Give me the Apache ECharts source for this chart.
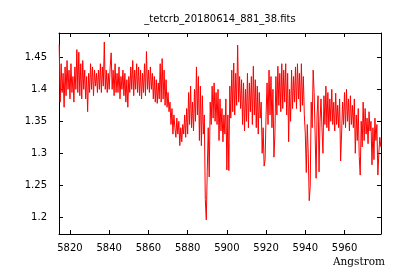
<!DOCTYPE html>
<html>
<head>
<meta charset="utf-8">
<script src="https://cdn.jsdelivr.net/npm/echarts@6/dist/echarts.min.js"></script>
<style>
html,body{margin:0;padding:0;background:#fff;}
#chart{width:400px;height:280px;}
</style>
</head>
<body>
<div id="chart"></div>
<script>
// Spectrum header-style grid (CRVAL1 / CDELT1), Angstrom
const startWavelength = 5814.5;
const stepWavelength = 0.5;
// Flux values, one per 0.5 Angstrom
const flux = [
  1.470, 1.380, 1.440, 1.395, 1.425, 1.372, 1.435, 1.390, 1.445, 1.400,
  1.430, 1.385, 1.440, 1.395, 1.420, 1.380, 1.435, 1.400, 1.462, 1.395,
  1.458, 1.390, 1.440, 1.385, 1.445, 1.400, 1.430, 1.385, 1.420, 1.365,
  1.425, 1.395, 1.440, 1.400, 1.435, 1.390, 1.430, 1.405, 1.425, 1.395,
  1.430, 1.400, 1.440, 1.395, 1.435, 1.405, 1.474, 1.400, 1.430, 1.395,
  1.425, 1.400, 1.435, 1.457, 1.400, 1.430, 1.390, 1.440, 1.395, 1.425,
  1.395, 1.435, 1.385, 1.420, 1.400, 1.430, 1.390, 1.425, 1.380, 1.415,
  1.372, 1.420, 1.395, 1.435, 1.400, 1.445, 1.390, 1.430, 1.400, 1.440,
  1.395, 1.435, 1.390, 1.430, 1.385, 1.425, 1.395, 1.440, 1.390, 1.459,
  1.400, 1.430, 1.395, 1.435, 1.400, 1.425, 1.385, 1.420, 1.380, 1.415,
  1.378, 1.410, 1.385, 1.440, 1.380, 1.448, 1.385, 1.430, 1.375, 1.415,
  1.372, 1.395, 1.365, 1.380, 1.345, 1.370, 1.330, 1.360, 1.340, 1.325,
  1.355, 1.330, 1.350, 1.312, 1.340, 1.318, 1.345, 1.330, 1.360, 1.325,
  1.370, 1.330, 1.395, 1.345, 1.405, 1.340, 1.380, 1.335, 1.400, 1.350,
  1.435, 1.360, 1.420, 1.320, 1.405, 1.312, 1.390, 1.330, 1.360, 1.228,
  1.196, 1.272, 1.340, 1.263, 1.380, 1.345, 1.405, 1.355, 1.410, 1.350,
  1.395, 1.345, 1.400, 1.320, 1.385, 1.335, 1.370, 1.318, 1.360, 1.330,
  1.385, 1.274, 1.360, 1.273, 1.405, 1.355, 1.430, 1.365, 1.441, 1.360,
  1.425, 1.375, 1.469, 1.380, 1.420, 1.370, 1.415, 1.345, 1.410, 1.335,
  1.400, 1.350, 1.425, 1.340, 1.410, 1.365, 1.420, 1.345, 1.436, 1.360,
  1.415, 1.340, 1.405, 1.330, 1.395, 1.355, 1.380, 1.300, 1.340, 1.280,
  1.290, 1.360, 1.410, 1.345, 1.430, 1.360, 1.420, 1.340, 1.400, 1.294,
  1.330, 1.420, 1.360, 1.436, 1.375, 1.425, 1.365, 1.440, 1.370, 1.430,
  1.380, 1.440, 1.360, 1.425, 1.318, 1.400, 1.350, 1.430, 1.370, 1.420,
  1.380, 1.435, 1.370, 1.440, 1.385, 1.425, 1.365, 1.440, 1.375, 1.420,
  1.360, 1.330, 1.270, 1.345, 1.300, 1.226, 1.248, 1.380, 1.340, 1.430,
  1.395, 1.330, 1.261, 1.360, 1.390, 1.271, 1.350, 1.385, 1.340, 1.300,
  1.390, 1.345, 1.405, 1.340, 1.395, 1.335, 1.385, 1.350, 1.400, 1.345,
  1.380, 1.335, 1.394, 1.345, 1.375, 1.340, 1.385, 1.288, 1.330, 1.380,
  1.345, 1.395, 1.340, 1.400, 1.350, 1.385, 1.335, 1.390, 1.345, 1.375,
  1.340, 1.385, 1.300, 1.360, 1.320, 1.370, 1.295, 1.266, 1.350, 1.310,
  1.380, 1.320, 1.370, 1.330, 1.355, 1.315, 1.365, 1.335, 1.350, 1.282,
  1.340, 1.290, 1.355, 1.320, 1.345, 1.266, 1.300, 1.325, 1.310
];
const xTicks = [5820, 5840, 5860, 5880, 5900, 5920, 5940, 5960];
const yTicks = [1.2, 1.25, 1.3, 1.35, 1.4, 1.45];
const titleText = '_tetcrb_20180614_881_38.fits';
const xLabel = 'Angstrom';

const points = flux.map((v, i) => [startWavelength + i * stepWavelength, v]);

const chart = echarts.init(document.getElementById('chart'), null, {renderer: 'canvas'});
const tickFont = 'DejaVu Sans';
const lineStyle = {color: '#000', width: 1};
function xAxisDef(pos, showLabel) {
  return {
    type: 'value', position: pos, min: 5814.4, max: 5978.6,
    axisLine: {show: true, onZero: false, lineStyle},
    axisTick: {show: true, inside: true, length: 4, customValues: xTicks, lineStyle},
    axisLabel: {show: showLabel, customValues: xTicks, formatter: v => String(Math.round(v)),
      fontFamily: tickFont, fontSize: 10, color: '#000', margin: 9},
    splitLine: {show: false}
  };
}
function yAxisDef(pos, showLabel) {
  return {
    type: 'value', position: pos, min: 1.1739, max: 1.488,
    axisLine: {show: true, onZero: false, lineStyle},
    axisTick: {show: true, inside: true, length: 4, customValues: yTicks, lineStyle},
    axisLabel: {show: showLabel, customValues: yTicks, formatter: v => String(+v.toFixed(2)),
      fontFamily: tickFont, fontSize: 10, color: '#000', margin: 12},
    splitLine: {show: false}
  };
}
chart.setOption({
  animation: false,
  backgroundColor: '#fff',
  grid: {left: 59, right: 19, top: 33, bottom: 46, containLabel: false},
  xAxis: [xAxisDef('bottom', true), xAxisDef('top', false)],
  yAxis: [yAxisDef('left', true), yAxisDef('right', false)],
  graphic: [
    {type: 'text', x: 220, y: 19, style: {text: titleText, align: 'center', verticalAlign: 'middle',
      font: '10px "DejaVu Sans"', fill: '#000'}},
    {type: 'text', x: 385, y: 262, style: {text: xLabel, align: 'right', verticalAlign: 'middle',
      font: '10.5px "DejaVu Serif"', fill: '#000'}}
  ],
  series: [{
    type: 'line', data: points, xAxisIndex: 0, yAxisIndex: 0,
    showSymbol: false, symbol: 'none',
    lineStyle: {color: '#ff0000', width: 1}
  }]
});
</script>
</body>
</html>
